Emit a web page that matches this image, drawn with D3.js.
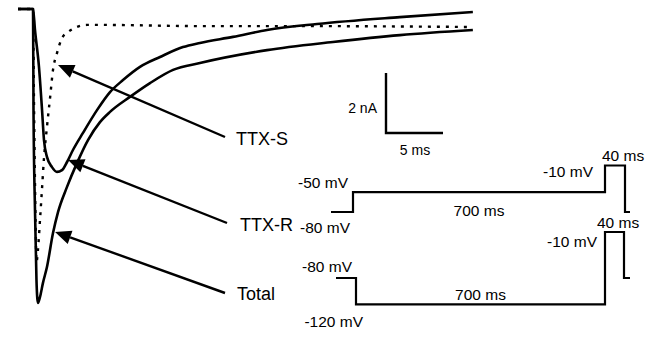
<!DOCTYPE html>
<html>
<head>
<meta charset="utf-8">
<script src="https://cdn.jsdelivr.net/npm/d3@7"></script>
<style>
  html, body { margin: 0; padding: 0; background: #fff; }
  svg { display: block; font-family: "Liberation Sans", Arial, Helvetica, sans-serif; }
</style>
</head>
<body>
<svg id="chart" width="651" height="339"></svg>
<script>
// ---- Sodium current traces: time (ms) and current (nA) ----
const timeTotal = [0, 1.32, 1.36, 1.49, 1.62, 1.75, 1.93, 2.19, 2.54, 3.07, 3.51, 4.30, 5.18, 6.14, 7.19, 8.07, 9.82, 11.58, 13.60, 15.96, 21.84, 27.63, 33.50, 39.90];
const currentTotal = [0, 0, -3.37, -6.70, -9.03, -9.80, -9.60, -9.13, -8.60, -7.47, -6.77, -5.93, -5.13, -4.37, -3.77, -3.43, -2.93, -2.47, -2.03, -1.80, -1.37, -1.10, -0.87, -0.70];

const timeTTXR = [0, 1.32, 1.49, 1.84, 2.11, 2.28, 2.54, 2.98, 3.42, 3.86, 4.30, 4.82, 5.70, 6.93, 8.07, 9.21, 10.70, 12.46, 14.47, 15.96, 18.86, 21.84, 26.23, 33.50, 39.90];
const currentTTXR = [0, 0, -0.70, -1.93, -3.37, -4.37, -4.93, -5.27, -5.43, -5.37, -5.10, -4.70, -4.13, -3.37, -2.77, -2.37, -1.93, -1.60, -1.27, -1.13, -0.93, -0.70, -0.50, -0.27, -0.10];

const timeTTXS = [0, 1.32, 1.40, 1.54, 1.62, 1.75, 1.93, 2.11, 2.28, 2.54, 2.81, 3.07, 3.42, 3.86, 4.39, 5.18, 6.05, 7.19, 15.96, 24.74, 39.90];
const currentTTXS = [0, 0, -3.03, -7.03, -8.43, -8.03, -7.03, -5.97, -4.97, -3.93, -2.97, -2.03, -1.47, -0.97, -0.77, -0.60, -0.53, -0.53, -0.57, -0.57, -0.60];

// Trace labels and the point (ms, nA) each arrow points at
const traceLabels = ["TTX-S", "TTX-R", "Total"];
const arrowTipTime = [3.51, 4.39, 3.25];
const arrowTipCurrent = [-1.87, -5.03, -7.43];

// Scale bar values
const scaleBarCurrent = 2;   // nA
const scaleBarTime = 5;      // ms

// ---- Voltage protocols (mV, ms) ----
const holdingPotential = -80;
const prepulsePotentials = [-50, -120];
const testPotential = -10;
const prepulseDuration = 700;
const testDuration = 40;

const svg = d3.select("#chart");

// Current-trace scales
const x = d3.scaleLinear().domain([0, 40]).range([18, 474]);
const y = d3.scaleLinear().domain([0, -10]).range([9, 309]);

const traceLine = d3.line()
  .x(d => x(d[0]))
  .y(d => y(d[1]))
  .curve(d3.curveMonotoneX);

const zip = (a, b) => a.map((v, i) => [v, b[i]]);

// TTX-S (dotted) underneath the solid traces
svg.append("path")
  .attr("d", traceLine(zip(timeTTXS, currentTTXS)))
  .attr("fill", "none")
  .attr("stroke", "#000")
  .attr("stroke-width", 2.4)
  .attr("stroke-dasharray", "3,6");

svg.append("path")
  .attr("d", traceLine(zip(timeTTXR, currentTTXR)))
  .attr("fill", "none")
  .attr("stroke", "#000")
  .attr("stroke-width", 2.6)
  .attr("stroke-linejoin", "round");

svg.append("path")
  .attr("d", traceLine(zip(timeTotal, currentTotal)))
  .attr("fill", "none")
  .attr("stroke", "#000")
  .attr("stroke-width", 2.6)
  .attr("stroke-linejoin", "round");

// ---- Arrows from labels to traces ----
const labelAnchors = [
  { tail: [225, 137], text: [236, 145] },
  { tail: [227, 223], text: [240, 231] },
  { tail: [225, 293], text: [237, 300] }
];

const headLen = 16, headHalf = 7;
traceLabels.forEach((label, i) => {
  const tip = [x(arrowTipTime[i]), y(arrowTipCurrent[i])];
  const tail = labelAnchors[i].tail;
  const dx = tail[0] - tip[0], dy = tail[1] - tip[1];
  const len = Math.hypot(dx, dy);
  const ux = dx / len, uy = dy / len;
  const base = [tip[0] + ux * headLen, tip[1] + uy * headLen];

  svg.append("line")
    .attr("x1", tail[0]).attr("y1", tail[1])
    .attr("x2", base[0]).attr("y2", base[1])
    .attr("stroke", "#000")
    .attr("stroke-width", 2.4);

  svg.append("path")
    .attr("d", d3.line()([
      tip,
      [base[0] - uy * headHalf, base[1] + ux * headHalf],
      [base[0] + uy * headHalf, base[1] - ux * headHalf]
    ]) + "Z")
    .attr("fill", "#000");

  svg.append("text")
    .attr("x", labelAnchors[i].text[0])
    .attr("y", labelAnchors[i].text[1])
    .attr("font-size", 18)
    .attr("fill", "#000")
    .text(label);
});

// ---- Scale bar ----
const barCorner = [386, 133];
const barTop = barCorner[1] - (y(-scaleBarCurrent) - y(0));
const barRight = barCorner[0] + (x(scaleBarTime) - x(0));

svg.append("path")
  .attr("d", d3.line()([[barCorner[0], barTop], barCorner, [barRight, barCorner[1]]]))
  .attr("fill", "none")
  .attr("stroke", "#000")
  .attr("stroke-width", 2.4);

svg.append("text")
  .attr("x", barCorner[0] - 9).attr("y", barCorner[1] - 20)
  .attr("text-anchor", "end")
  .attr("font-size", 14)
  .text(`${scaleBarCurrent} nA`);

svg.append("text")
  .attr("x", (barCorner[0] + barRight) / 2 + 0.5).attr("y", barCorner[1] + 22)
  .attr("text-anchor", "middle")
  .attr("font-size", 14)
  .text(`${scaleBarTime} ms`);

// ---- Voltage protocols (schematic time axis) ----
const protoTimes = [-30, 0, prepulseDuration, prepulseDuration + testDuration, prepulseDuration + testDuration + 10];
const protocols = [
  { pre: prepulsePotentials[0],
    t: d3.scaleLinear().domain(protoTimes).range([331, 353, 605, 625, 630]),
    v: d3.scaleLinear().domain([holdingPotential, testPotential]).range([212, 165.5]) },
  { pre: prepulsePotentials[1],
    t: d3.scaleLinear().domain(protoTimes).range([336, 356, 605, 624, 630]),
    v: d3.scaleLinear().domain([holdingPotential, testPotential]).range([278, 232]) }
];

protocols.forEach((p, i) => {
  const steps = [
    [protoTimes[0], holdingPotential],
    [0, holdingPotential],
    [0, p.pre],
    [prepulseDuration, p.pre],
    [prepulseDuration, testPotential],
    [prepulseDuration + testDuration, testPotential],
    [prepulseDuration + testDuration, holdingPotential],
    [protoTimes[4], holdingPotential]
  ];
  svg.append("path")
    .attr("d", d3.line().x(d => p.t(d[0])).y(d => p.v(d[1]))(steps))
    .attr("fill", "none")
    .attr("stroke", "#000")
    .attr("stroke-width", 2.2);

  const g = svg.append("g").attr("font-size", 15.5).attr("fill", "#000");
  const mv = v => `${v} mV`;
  const x0 = p.t(0);

  if (p.pre > holdingPotential) {
    g.append("text").attr("x", x0 - 5).attr("y", p.v(p.pre) - 4)
      .attr("text-anchor", "end").text(mv(p.pre));
    g.append("text").attr("x", x0 - 3).attr("y", p.v(holdingPotential) + 21)
      .attr("text-anchor", "end").text(mv(holdingPotential));
    g.append("text").attr("x", (x0 + p.t(prepulseDuration)) / 2).attr("y", p.v(p.pre) + 24)
      .attr("text-anchor", "middle").text(`${prepulseDuration} ms`);
    g.append("text").attr("x", p.t(prepulseDuration) - 12).attr("y", p.v(testPotential) + 11)
      .attr("text-anchor", "end").text(mv(testPotential));
    g.append("text").attr("x", p.t(prepulseDuration) - 3).attr("y", p.v(testPotential) - 5)
      .text(`${testDuration} ms`);
  } else {
    g.append("text").attr("x", x0 - 4).attr("y", p.v(holdingPotential) - 6)
      .attr("text-anchor", "end").text(mv(holdingPotential));
    g.append("text").attr("x", x0 + 7).attr("y", p.v(p.pre) + 23)
      .attr("text-anchor", "end").text(mv(p.pre));
    g.append("text").attr("x", (x0 + p.t(prepulseDuration)) / 2).attr("y", p.v(p.pre) - 4)
      .attr("text-anchor", "middle").text(`${prepulseDuration} ms`);
    g.append("text").attr("x", p.t(prepulseDuration) - 8).attr("y", p.v(testPotential) + 15)
      .attr("text-anchor", "end").text(mv(testPotential));
    g.append("text").attr("x", p.t(prepulseDuration) - 8).attr("y", p.v(testPotential) - 4)
      .text(`${testDuration} ms`);
  }
});
</script>
</body>
</html>
